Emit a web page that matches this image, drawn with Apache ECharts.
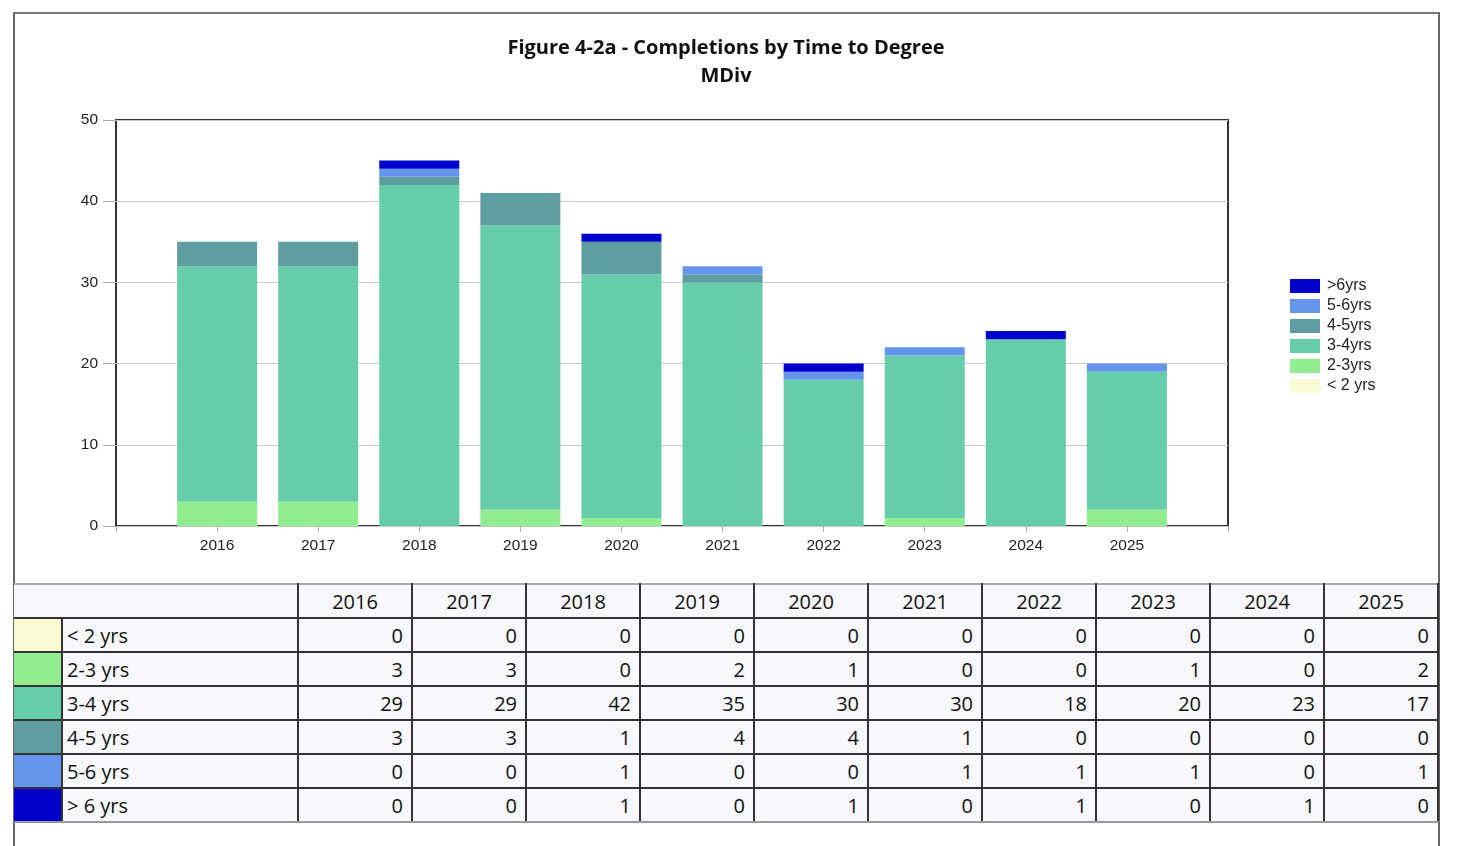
<!DOCTYPE html>
<html>
<head>
<meta charset="utf-8">
<script src="https://cdn.jsdelivr.net/npm/echarts@6/dist/echarts.min.js"></script>
<style>
  body { margin: 0; background: #fff; width: 1468px; height: 846px; overflow: hidden; position: relative; }
  #frame { position: absolute; left: 13px; top: 12px; width: 1423px; height: 900px;
    border-left: 2px solid #666; border-top: 2px solid #777; border-right: 2px solid #666; }
  #chart { position: absolute; left: 0; top: 0; width: 1468px; height: 583px; }
  #tbl { position: absolute; left: 14px; top: 583px; width: 1424px; border-collapse: collapse;
    font-family: "Open Sans", "Noto Sans", sans-serif; font-size: 20px; color: #111; table-layout: fixed; }
  #tbl td { height: 32px; padding: 0 8px; background: #f8f8fc; border: 2px solid #333; white-space: nowrap; }
  #tbl tr:first-child td { border-top: 2px solid #aaa; text-align: center; }
  #tbl tr:last-child td { border-bottom: 2px solid #999; }
  #tbl td.num { text-align: right; }
  #tbl td.sw { padding: 0; border-left: none; }
  #tbl td.lbl { padding-left: 4px; }
</style>
</head>
<body>
<div id="frame"></div>
<div id="chart"></div>
<table id="tbl"></table>
<script>
  const years = ['2016', '2017', '2018', '2019', '2020', '2021', '2022', '2023', '2024', '2025'];
  const legendNames = ['< 2 yrs', '2-3yrs', '3-4yrs', '4-5yrs', '5-6yrs', '>6yrs'];
  const rowNames = ['< 2 yrs', '2-3 yrs', '3-4 yrs', '4-5 yrs', '5-6 yrs', '> 6 yrs'];
  const colors = ['#FAFAD2', '#90EE90', '#66CDAA', '#5F9EA0', '#6495ED', '#0000CD'];

  const under2 = [0, 0, 0, 0, 0, 0, 0, 0, 0, 0];
  const yrs2to3 = [3, 3, 0, 2, 1, 0, 0, 1, 0, 2];
  const yrs3to4 = [29, 29, 42, 35, 30, 30, 18, 20, 23, 17];
  const yrs4to5 = [3, 3, 1, 4, 4, 1, 0, 0, 0, 0];
  const yrs5to6 = [0, 0, 1, 0, 0, 1, 1, 1, 0, 1];
  const over6 = [0, 0, 1, 0, 1, 0, 1, 0, 1, 0];
  const allSeries = [under2, yrs2to3, yrs3to4, yrs4to5, yrs5to6, over6];

  const yTicks = { min: 0, max: 50, interval: 10 };

  const myChart = echarts.init(document.getElementById('chart'));
  const axisFont = { fontFamily: '"Liberation Sans", Arial, sans-serif', fontSize: 15.5, color: '#222' };

  // empty slot at each end so the bars sit half a gap in from the frame
  const xCats = [''].concat(years, ['']);

  myChart.setOption({
    animation: false,
    title: {
      text: 'Figure 4-2a - Completions by Time to Degree\nMDiv',
      left: 721,
      textAlign: 'center',
      top: 29,
      textStyle: {
        fontFamily: '"Open Sans", "Noto Sans", sans-serif',
        fontSize: 20,
        fontWeight: 'bold',
        lineHeight: 28,
        color: '#111',
      },
    },
    legend: {
      orient: 'vertical',
      left: 1290,
      top: 278,
      padding: 0,
      itemWidth: 30,
      itemHeight: 14,
      itemGap: 4,
      icon: 'rect',
      data: legendNames.slice().reverse(),
      textStyle: { fontFamily: '"Liberation Sans", Arial, sans-serif', fontSize: 16, color: '#222', padding: [0, 0, 0, 2] },
    },
    grid: {
      left: 116,
      right: 240,
      top: 120,
      bottom: 57,
      show: true,
      borderColor: '#333',
      borderWidth: 2,
    },
    xAxis: {
      type: 'category',
      data: xCats,
      boundaryGap: false,
      splitLine: { show: false },
      axisLine: { show: false },
      axisTick: { show: true, length: 6, interval: 0, lineStyle: { color: '#aaa' } },
      axisLabel: { ...axisFont, margin: 12, interval: 0 },
    },
    yAxis: {
      type: 'value',
      ...yTicks,
      axisLine: { show: false },
      axisTick: { show: true, length: 13, lineStyle: { color: '#aaa' } },
      splitLine: { lineStyle: { color: '#c8c8c8', width: 1 } },
      axisLabel: { ...axisFont, margin: 18 },
    },
    series: allSeries.map((vals, i) => ({
      name: legendNames[i],
      type: 'bar',
      stack: 'total',
      barWidth: 80,
      itemStyle: { color: colors[i] },
      data: [null].concat(vals, [null]),
    })),
  });

  // data table under the chart
  const tbl = document.getElementById('tbl');
  let html = '<colgroup><col style="width:48px"><col style="width:236px">';
  years.forEach(() => { html += '<col style="width:114px">'; });
  html += '</colgroup><tr><td colspan="2" style="border-left:none"></td>';
  years.forEach((y) => { html += '<td>' + y + '</td>'; });
  html += '</tr>';
  allSeries.forEach((vals, i) => {
    html += '<tr><td class="sw" style="background:' + colors[i] + '"></td><td class="lbl">' + rowNames[i] + '</td>';
    vals.forEach((v) => { html += '<td class="num">' + v + '</td>'; });
    html += '</tr>';
  });
  tbl.innerHTML = html;
</script>
</body>
</html>
